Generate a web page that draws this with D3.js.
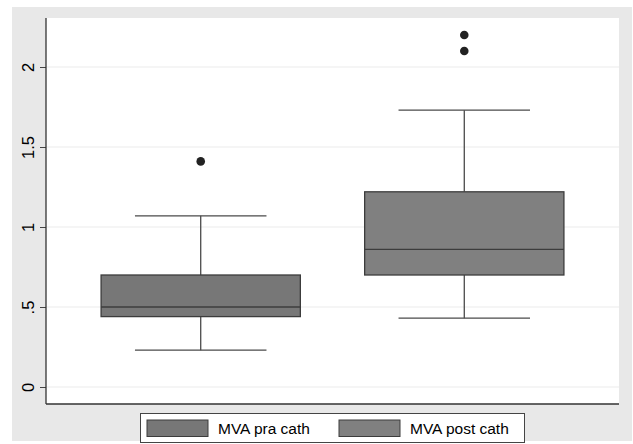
<!DOCTYPE html>
<html>
<head>
<meta charset="utf-8">
<script src="https://cdn.jsdelivr.net/npm/d3@7"></script>
<style>
  body { margin: 0; background: #fff; }
  text { font-family: "Liberation Sans", Arial, sans-serif; }
</style>
</head>
<body>
<div id="chart"></div>
<script>
// Datos (cuartiles, bigotes y valores atipicos)
const categories = ["MVA pra cath", "MVA post cath"];
const lowerWhisker = [0.23, 0.43];
const q1 = [0.44, 0.70];
const median = [0.50, 0.86];
const q3 = [0.70, 1.22];
const upperWhisker = [1.07, 1.73];
const outliers = [[1.41], [2.10, 2.20]];
const tickValues = [0, 0.5, 1, 1.5, 2];
const tickLabels = ["0", ".5", "1", "1.5", "2"];
const boxColors = ["#777777", "#808080"];

const W = 633, H = 444;
const plot = { left: 46, right: 619, top: 18, bottom: 404 };

const svg = d3.select("#chart")
    .append("svg")
    .attr("width", W)
    .attr("height", H);

// Fondo gris del grafico
svg.append("rect")
    .attr("x", 12).attr("y", 7)
    .attr("width", 620).attr("height", 434)
    .attr("fill", "#e8e8e8");

// Area del grafico en blanco
svg.append("rect")
    .attr("x", plot.left).attr("y", plot.top)
    .attr("width", plot.right - plot.left).attr("height", plot.bottom - plot.top)
    .attr("fill", "#ffffff");

// Escalas
const y = d3.scaleLinear()
    .domain([0, 2])
    .range([387, 67]);

const x = d3.scaleBand()
    .domain(categories)
    .range([plot.left, plot.right])
    .paddingInner(0.244)
    .paddingOuter(0.209);

// Lineas de cuadricula
svg.append("g")
    .selectAll("line")
    .data(tickValues)
    .enter()
    .append("line")
    .attr("x1", plot.left)
    .attr("x2", plot.right)
    .attr("y1", d => y(d))
    .attr("y2", d => y(d))
    .attr("stroke", "#ebebeb")
    .attr("stroke-width", 1.2);

// Eje Y
const yAxis = svg.append("g")
    .attr("transform", `translate(${plot.left},0)`)
    .call(d3.axisLeft(y)
        .tickValues(tickValues)
        .tickFormat((d, i) => tickLabels[i])
        .tickSize(6)
        .tickSizeOuter(0));

yAxis.attr("font-size", 16.5);
yAxis.select(".domain").remove();
yAxis.selectAll(".tick line").attr("stroke", "#444");
yAxis.selectAll("text")
    .attr("x", 0)
    .attr("dy", 0)
    .attr("transform", "translate(-12,0) rotate(-90)")
    .attr("text-anchor", "middle")
    .attr("font-size", 16.5)
    .attr("fill", "#000");

// Lineas de los ejes
svg.append("line")
    .attr("x1", plot.left).attr("x2", plot.left)
    .attr("y1", plot.top).attr("y2", plot.bottom)
    .attr("stroke", "#333").attr("stroke-width", 1.3);

svg.append("line")
    .attr("x1", plot.left).attr("x2", plot.right)
    .attr("y1", plot.bottom).attr("y2", plot.bottom)
    .attr("stroke", "#333").attr("stroke-width", 1.3);

// Cajas
const boxes = svg.append("g")
    .selectAll("g")
    .data(categories)
    .enter()
    .append("g");

const cx = d => x(d) + x.bandwidth() / 2;
const capHalf = x.bandwidth() * 0.33;

// Bigotes
boxes.append("line")
    .attr("x1", cx).attr("x2", cx)
    .attr("y1", (d, i) => y(upperWhisker[i]))
    .attr("y2", (d, i) => y(q3[i]))
    .attr("stroke", "#4a4a4a").attr("stroke-width", 1.3);

boxes.append("line")
    .attr("x1", cx).attr("x2", cx)
    .attr("y1", (d, i) => y(q1[i]))
    .attr("y2", (d, i) => y(lowerWhisker[i]))
    .attr("stroke", "#4a4a4a").attr("stroke-width", 1.3);

boxes.append("line")
    .attr("x1", d => cx(d) - capHalf).attr("x2", d => cx(d) + capHalf)
    .attr("y1", (d, i) => y(upperWhisker[i]))
    .attr("y2", (d, i) => y(upperWhisker[i]))
    .attr("stroke", "#4a4a4a").attr("stroke-width", 1.3);

boxes.append("line")
    .attr("x1", d => cx(d) - capHalf).attr("x2", d => cx(d) + capHalf)
    .attr("y1", (d, i) => y(lowerWhisker[i]))
    .attr("y2", (d, i) => y(lowerWhisker[i]))
    .attr("stroke", "#4a4a4a").attr("stroke-width", 1.3);

boxes.append("rect")
    .attr("x", d => x(d))
    .attr("width", x.bandwidth())
    .attr("y", (d, i) => y(q3[i]))
    .attr("height", (d, i) => y(q1[i]) - y(q3[i]))
    .attr("fill", (d, i) => boxColors[i])
    .attr("stroke", "#3c3c3c")
    .attr("stroke-width", 1.3);

boxes.append("line")
    .attr("x1", d => x(d)).attr("x2", d => x(d) + x.bandwidth())
    .attr("y1", (d, i) => y(median[i]))
    .attr("y2", (d, i) => y(median[i]))
    .attr("stroke", "#3c3c3c").attr("stroke-width", 1.3);

// Valores atipicos
boxes.each(function(d, i) {
    d3.select(this).selectAll("circle")
        .data(outliers[i])
        .enter()
        .append("circle")
        .attr("cx", cx(d))
        .attr("cy", v => y(v))
        .attr("r", 4.3)
        .attr("fill", "#222");
});

// Leyenda
const legend = svg.append("g");
legend.append("rect")
    .attr("x", 140.5).attr("y", 413.5)
    .attr("width", 384).attr("height", 29)
    .attr("fill", "#fff")
    .attr("stroke", "#444").attr("stroke-width", 1);

const legendX = [147, 339];
const items = legend.selectAll("g.item")
    .data(categories)
    .enter()
    .append("g")
    .attr("class", "item")
    .attr("transform", (d, i) => `translate(${legendX[i]},0)`);

items.append("rect")
    .attr("x", 0).attr("y", 420)
    .attr("width", 61).attr("height", 16.5)
    .attr("fill", (d, i) => boxColors[i])
    .attr("stroke", "#3c3c3c").attr("stroke-width", 1);

items.append("text")
    .attr("x", 71)
    .attr("y", 434)
    .attr("font-size", 15.5)
    .attr("fill", "#000")
    .text(d => d);
</script>
</body>
</html>
